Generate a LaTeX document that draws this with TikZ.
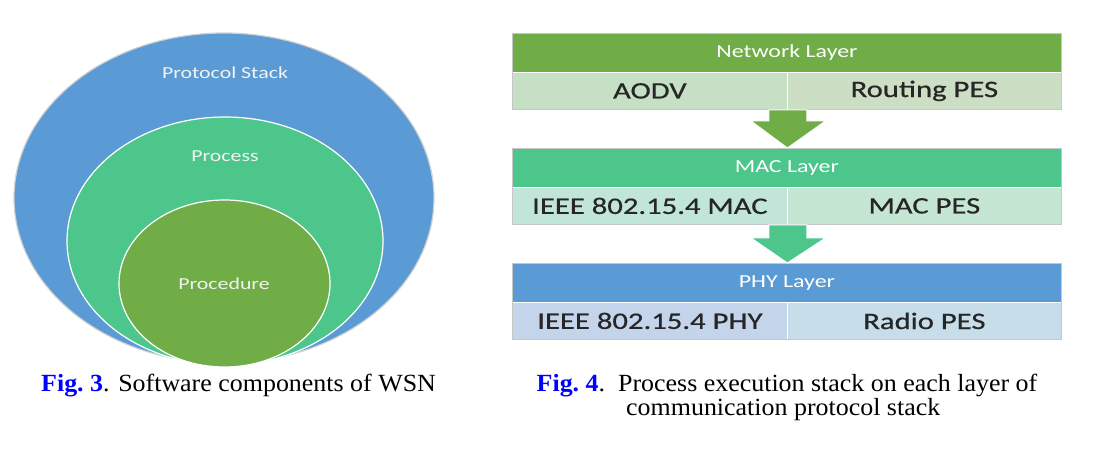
\documentclass[tikz,border=0pt]{standalone}
\usepackage{fontspec}
\newfontfamily\smartfont[FakeStretch=1.3]{Carlito}
\newfontfamily\cellfont[FakeStretch=1.3,FakeBold=0.6]{Carlito}
\newfontfamily\capfont[FakeStretch=1.05]{Liberation Serif}
\definecolor{blueL}{HTML}{5B9BD5}
\definecolor{tealL}{HTML}{4DC68C}
\definecolor{greenL}{HTML}{70AD47}
\definecolor{netA}{HTML}{C6E0C6}
\definecolor{netB}{HTML}{CCDEC3}
\definecolor{macA}{HTML}{C1E6D9}
\definecolor{macB}{HTML}{C6E6D4}
\definecolor{phyA}{HTML}{C3D4EB}
\definecolor{phyB}{HTML}{C7DEEA}
\definecolor{txtdark}{HTML}{262626}
\definecolor{figblue}{HTML}{0000FF}
\begin{document}
\begin{tikzpicture}[x=1pt,y=-1pt,
  hdr/.style={anchor=north west, inner sep=0pt, minimum width=549pt, minimum height=39pt,
    draw=white, line width=0.8pt, text=white, font=\smartfont\fontsize{18.4}{20}\selectfont},
  cell/.style={anchor=north west, inner sep=0pt, minimum height=37pt,
    draw=white, line width=0.8pt, text=txtdark, font=\cellfont\fontsize{23.6}{26}\selectfont},
  lcell/.style={cell, minimum width=275pt},
  rcell/.style={cell, minimum width=274pt},
  frame/.style={draw=black!22, line width=1pt},
  blockarrow/.style={draw=white, line width=1pt},
  ringtext/.style={text=white!95!black, font=\smartfont\fontsize{16.8}{18}\selectfont},
  captxt/.style={anchor=base west, inner sep=0pt, font=\capfont\fontsize{24.7}{27}\selectfont}
]
\useasboundingbox (0,0) rectangle (1100,463);
\fill[white] (0,0) rectangle (1100,463);

% ---- Fig. 3: nested ellipses
\filldraw[fill=blueL, draw=black!18, line width=1.2pt] (224,198) ellipse [x radius=210, y radius=165];
\filldraw[fill=tealL, draw=white, line width=1.2pt] (225,241) ellipse [x radius=158, y radius=124];
\filldraw[fill=greenL, draw=white, line width=1.2pt] (224.5,283.5) ellipse [x radius=105.5, y radius=83.5];
\node[ringtext] (pstack) at (225,73) {Protocol Stack};
\node[ringtext] (proc) at (225,156) {Process};
\node[ringtext] (procd) at (224,284) {Procedure};

% ---- Fig. 4: layer stack
\node[hdr, fill=greenL] (net) at (512,33) {Network Layer};
\node[lcell, fill=netA] (aodv) at (512,72) {AODV};
\node[rcell, fill=netB] (rpes) at (787,72) {Routing PES};
\draw[frame] (net.north west) rectangle (rpes.south east);

\node[hdr, fill=tealL] (mac) at (512,148) {MAC Layer};
\node[lcell, fill=macA] (ieeemac) at (512,187) {IEEE 802.15.4 MAC};
\node[rcell, fill=macB] (macpes) at (787,187) {MAC PES};
\draw[frame] (mac.north west) rectangle (macpes.south east);

\node[hdr, fill=blueL] (phy) at (512,263) {PHY Layer};
\node[lcell, fill=phyA] (ieeephy) at (512,302) {IEEE 802.15.4 PHY};
\node[rcell, fill=phyB] (radio) at (787,302) {Radio PES};
\draw[frame] (phy.north west) rectangle (radio.south east);

% block arrows
\filldraw[blockarrow, fill=greenL]
  ([xshift=-19pt]aodv.south east) -- ([xshift=19pt]aodv.south east)
  -- ([xshift=19pt,yshift=-11pt]aodv.south east) -- ([xshift=38pt,yshift=-11pt]aodv.south east)
  -- ([xshift=0.5pt]mac.north) -- ([xshift=-37pt,yshift=-11pt]aodv.south east)
  -- ([xshift=-19pt,yshift=-11pt]aodv.south east) -- cycle;
\filldraw[blockarrow, fill=tealL]
  ([xshift=-19pt]ieeemac.south east) -- ([xshift=19pt]ieeemac.south east)
  -- ([xshift=19pt,yshift=-13pt]ieeemac.south east) -- ([xshift=38pt,yshift=-13pt]ieeemac.south east)
  -- ([xshift=0.5pt]phy.north) -- ([xshift=-37pt,yshift=-13pt]ieeemac.south east)
  -- ([xshift=-19pt,yshift=-13pt]ieeemac.south east) -- cycle;

% ---- captions
\node[captxt] (cap3) at (41,391.5) {\textcolor{figblue}{\bfseries Fig.~3}. Software components of WSN};
\node[captxt] (cap4a) at (536.5,391.5) {\textcolor{figblue}{\bfseries Fig.~4}.\ \ Process execution stack on each layer of};
\node[captxt] (cap4b) at (626,415) {communication protocol stack};
\end{tikzpicture}
\end{document}
